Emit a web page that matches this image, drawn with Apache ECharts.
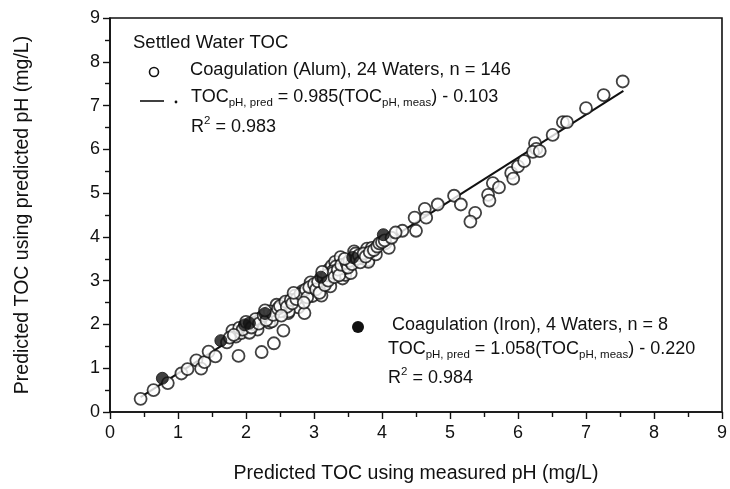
<!DOCTYPE html>
<html>
<head>
<meta charset="utf-8">
<script src="https://cdn.jsdelivr.net/npm/echarts@6/dist/echarts.min.js"></script>
<style>
  html, body { margin: 0; padding: 0; background: #fff; }
  #chart { width: 730px; height: 489px; }
</style>
</head>
<body>
<div id="chart"></div>
<script>
// Settled water TOC: prediction with predicted pH vs. measured pH (mg/L)

// Alum coagulation, 24 waters, n = 146  [measured-pH TOC, predicted-pH TOC]
const alumPoints = [
  [0.45, 0.30], [0.64, 0.50], [0.85, 0.66], [1.05, 0.88], [1.14, 0.98],
  [1.27, 1.18], [1.34, 0.99], [1.39, 1.14], [1.45, 1.38], [1.55, 1.27],
  [1.72, 1.59], [1.80, 1.86], [1.85, 1.72], [1.89, 1.28], [1.93, 1.80],
  [1.90, 1.92], [1.98, 1.96], [2.12, 2.04], [2.17, 1.88], [2.22, 2.15],
  [2.34, 2.04], [2.23, 1.37], [2.41, 1.57], [2.55, 1.86], [2.45, 2.45],
  [2.56, 2.47], [2.62, 2.26], [2.72, 2.66], [2.77, 2.39], [2.86, 2.26],
  [2.83, 2.76], [2.95, 2.96], [2.98, 2.65], [3.11, 2.66], [3.22, 3.26],
  [3.24, 2.87], [3.26, 3.34], [3.31, 3.43], [3.39, 3.54], [3.42, 3.05],
  [3.46, 3.13], [3.54, 3.17], [3.59, 3.67], [3.71, 3.51], [3.80, 3.47],
  [3.78, 3.73], [3.85, 3.75], [4.05, 3.85], [4.10, 3.75], [4.30, 4.14],
  [4.50, 4.14], [4.48, 4.44], [4.63, 4.64], [4.65, 4.44], [4.82, 4.74],
  [5.06, 4.94], [5.16, 4.74], [5.37, 4.55], [5.30, 4.35], [5.56, 4.96],
  [5.58, 4.83], [5.63, 5.23], [5.72, 5.13], [5.90, 5.46], [5.93, 5.33],
  [6.00, 5.61], [6.09, 5.73], [6.25, 6.14], [6.27, 6.01], [6.22, 5.94],
  [6.32, 5.96], [6.51, 6.33], [6.66, 6.62], [6.72, 6.62], [7.00, 6.94],
  [7.26, 7.24], [7.54, 7.55], [3.32, 3.32], [3.27, 3.21], [3.44, 3.28],
  [3.61, 3.62], [3.80, 3.43], [3.91, 3.60], [1.76, 1.70], [2.63, 2.30],
  [2.05, 1.81], [2.10, 2.01], [2.38, 2.07], [2.51, 2.30],
  [1.95, 1.88], [2.00, 2.06], [2.08, 1.93], [2.14, 2.12], [2.19, 2.02],
  [2.26, 2.20], [2.30, 2.10], [2.35, 2.30], [2.40, 2.22], [2.47, 2.36],
  [2.50, 2.42], [2.58, 2.52], [2.60, 2.40], [2.66, 2.56], [2.68, 2.48],
  [2.74, 2.58], [2.80, 2.70], [2.88, 2.80], [2.90, 2.62], [2.93, 2.85],
  [3.00, 2.92], [3.03, 2.80], [3.06, 2.98], [3.08, 2.72], [3.14, 3.05],
  [3.16, 2.90], [3.19, 3.12], [3.21, 3.00], [3.28, 3.18], [3.30, 3.08],
  [3.35, 3.25], [3.37, 3.12], [3.40, 3.36], [3.48, 3.40], [3.50, 3.30],
  [3.52, 3.45], [3.56, 3.38], [3.63, 3.50], [3.66, 3.58], [3.68, 3.42],
  [3.73, 3.62], [3.76, 3.55], [3.82, 3.65], [3.88, 3.70], [3.93, 3.78],
  [3.96, 3.85], [4.00, 3.88], [4.04, 3.92], [4.14, 3.98], [4.20, 4.10],
  [2.70, 2.72], [2.85, 2.50], [3.12, 3.20], [2.52, 2.20], [1.82, 1.76],
  [2.28, 2.32], [3.45, 3.50]
];

// Iron coagulation, 4 waters, n = 8
const ironPoints = [
  [0.77, 0.77], [1.63, 1.63], [1.98, 1.99], [2.05, 2.03],
  [2.28, 2.25], [3.10, 3.08], [3.57, 3.53], [4.02, 4.05]
];

// Alum regression: slope, intercept, and the x span it is drawn over
const alumFit = [0.985, -0.103];
const alumFitRange = [0.45, 7.55];

const axisTicks = [0, 1, 2, 3, 4, 5, 6, 7, 8, 9];

const FONT = '"Liberation Sans", Arial, Helvetica, sans-serif';
const INK = '#111';

const fitLine = alumFitRange.map(x => [x, alumFit[0] * x + alumFit[1]]);

const richStyles = {
  m: { fontSize: 18, fontFamily: FONT, color: INK, lineHeight: 24, verticalAlign: 'middle' },
  s: { fontSize: 11.5, fontFamily: FONT, color: INK, lineHeight: 13, verticalAlign: 'bottom' },
  p: { fontSize: 11.5, fontFamily: FONT, color: INK, lineHeight: 13, verticalAlign: 'top' }
};

function richText(x, y, text) {
  return {
    type: 'text', left: x, top: y - 12, z: 10,
    style: { text: text, rich: richStyles, fill: INK }
  };
}

function plainText(x, y, text, size) {
  return {
    type: 'text', left: x, top: y - size * 0.6, z: 10,
    style: { text: text, font: size + 'px ' + FONT, fill: INK }
  };
}

const chart = echarts.init(document.getElementById('chart'), null, { renderer: 'canvas' });

const axisCommon = {
  type: 'value',
  min: axisTicks[0],
  max: axisTicks[axisTicks.length - 1],
  interval: 1,
  splitLine: { show: false },
  axisLine: { show: true, onZero: false, lineStyle: { color: INK, width: 1.6 } },
  axisTick: { show: true, inside: false, length: 7, lineStyle: { color: INK, width: 1.4 } },
  minorTick: { show: true, splitNumber: 2, length: 5, lineStyle: { color: INK, width: 1.4 } },
  axisLabel: { color: INK, fontSize: 18, fontFamily: FONT },
  nameLocation: 'middle',
  nameTextStyle: { color: INK, fontSize: 19.5, fontFamily: FONT }
};

chart.setOption({
  animation: false,
  backgroundColor: '#fff',
  grid: {
    left: 110, right: 4, top: 18, bottom: 74,
    show: true, borderColor: INK, borderWidth: 1.6, backgroundColor: 'transparent'
  },
  xAxis: Object.assign({}, axisCommon, {
    name: 'Predicted TOC using measured pH (mg/L)',
    nameGap: 52,
    axisLabel: Object.assign({}, axisCommon.axisLabel, { margin: 12 })
  }),
  yAxis: Object.assign({}, axisCommon, {
    name: 'Predicted TOC using predicted pH (mg/L)',
    nameGap: 77,
    axisLabel: Object.assign({}, axisCommon.axisLabel, { margin: 10 })
  }),
  series: [
    {
      name: 'Alum fit',
      type: 'line',
      data: fitLine,
      symbol: 'none',
      lineStyle: { color: INK, width: 2 },
      z: 3
    },
    {
      name: 'Coagulation (Alum)',
      type: 'scatter',
      data: alumPoints,
      symbol: 'circle',
      symbolSize: 12,
      itemStyle: { color: '#fff', borderColor: INK, borderWidth: 1.8 },
      z: 4
    },
    {
      name: 'Coagulation (Iron)',
      type: 'scatter',
      data: ironPoints,
      symbol: 'circle',
      symbolSize: 12,
      itemStyle: { color: INK, borderColor: INK, borderWidth: 1 },
      z: 5
    }
  ],
  graphic: [
    plainText(133, 45, 'Settled Water TOC', 18.5),
    { type: 'circle', shape: { cx: 154, cy: 72, r: 4.5 }, style: { fill: '#fff', stroke: INK, lineWidth: 1.6 }, z: 10 },
    plainText(190, 72, 'Coagulation (Alum), 24 Waters, n = 146', 18.3),
    { type: 'line', shape: { x1: 140, y1: 101, x2: 164, y2: 101 }, style: { stroke: INK, lineWidth: 1.6 }, z: 10 },
    { type: 'circle', shape: { cx: 176, cy: 102, r: 1.4 }, style: { fill: INK }, z: 10 },
    richText(191, 100, '{m|TOC}{s|pH, pred}{m| = 0.985(TOC}{s|pH, meas}{m|) - 0.103}'),
    richText(191, 127, '{m|R}{p|2}{m| = 0.983}'),
    { type: 'circle', shape: { cx: 358, cy: 327, r: 6 }, style: { fill: INK }, z: 10 },
    plainText(392, 327, 'Coagulation (Iron), 4 Waters, n = 8', 18),
    richText(388, 352, '{m|TOC}{s|pH, pred}{m| = 1.058(TOC}{s|pH, meas}{m|) - 0.220}'),
    richText(388, 378, '{m|R}{p|2}{m| = 0.984}')
  ]
});
</script>
</body>
</html>
